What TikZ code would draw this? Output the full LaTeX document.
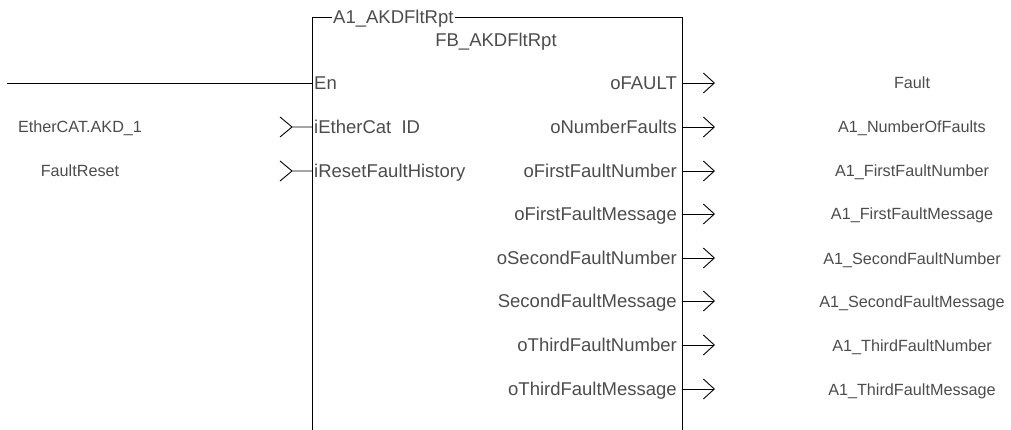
\documentclass[tikz,border=0pt]{standalone}
\usepackage{fontspec}
\setmainfont{Liberation Sans}
\usepackage{tikz}
\usetikzlibrary{arrows.meta}

\tikzset{
  wire/.style={line width=0.9pt, black},
  outarrow/.style={wire, -{Straight Barb[length=11pt, width=20pt, line width=0.9pt]}},
  pinlabel/.style={inner xsep=2pt, inner ysep=0pt, text=black!70, font=\fontsize{18.5}{22}\selectfont},
  varlabel/.style={pinlabel, anchor=base, font=\fontsize{16.2}{20}\selectfont},
}

\begin{document}
\begin{tikzpicture}[x=1pt, y=-1pt]
  \useasboundingbox (0,0) rectangle (1011,430);

  % Block frame, open at the bottom
  \node[pinlabel, anchor=base west, inner xsep=1pt] (inst) at (332,24) {A1\_AKDFltRpt};
  \node[pinlabel, anchor=base] (fbtype) at (496,47) {FB\_AKDFltRpt};
  \draw[wire] (312,430) -- (312,17) -- (inst.west |- 0,17);
  \draw[wire] (inst.east |- 0,17) -- (682,17) -- (682,430);

  % Enable input
  \node[pinlabel, anchor=base west] (en) at (312,89.5) {En};
  \coordinate (enstart) at (7,83);
  \draw[wire] (enstart) -- (en.west |- enstart);

  % Inputs
  \node[pinlabel, anchor=base west] (ethid) at (312,133.5) {iEtherCat\phantom{\_}ID};
  \node[varlabel] (ethvar) at (80,133) {EtherCAT.AKD\_1};
  \draw[wire] (ethid.west |- 0,127) -- ++(-20,0) -- ++(-12,-10) ++(12,10) -- ++(-12,10);

  \node[pinlabel, anchor=base west] (reset) at (312,177.5) {iResetFaultHistory};
  \node[varlabel] (resetvar) at (80,177) {FaultReset};
  \draw[wire] (reset.west |- 0,171) -- ++(-20,0) -- ++(-12,-10) ++(12,10) -- ++(-12,10);

  % Outputs
  \foreach \row/\pin/\var [count=\i] in {
      83/oFAULT/Fault,
      127/oNumberFaults/A1\_NumberOfFaults,
      171/oFirstFaultNumber/A1\_FirstFaultNumber,
      214/oFirstFaultMessage/A1\_FirstFaultMessage,
      258/oSecondFaultNumber/A1\_SecondFaultNumber,
      301/SecondFaultMessage/A1\_SecondFaultMessage,
      345/oThirdFaultNumber/A1\_ThirdFaultNumber,
      389/oThirdFaultMessage/A1\_ThirdFaultMessage} {
    \node[pinlabel, anchor=base east, inner xsep=5pt] (opin\i) at (682,\row+6.5) {\pin};
    \node[varlabel] (ovar\i) at (912,\row+6) {\var};
    \coordinate (otip\i) at (715,\row);
    \draw[outarrow] (opin\i.east |- otip\i) -- (otip\i);
  }
\end{tikzpicture}
\end{document}
